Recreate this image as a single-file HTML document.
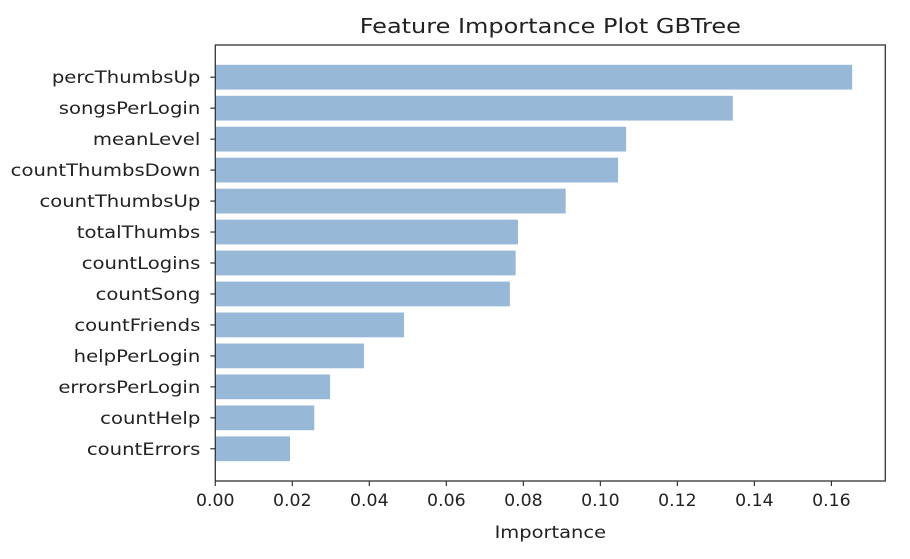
<!DOCTYPE html>
<html><head><meta charset="utf-8"><style>
body{margin:0;background:#fff;width:910px;height:554px;overflow:hidden}
svg{font-family:"DejaVu Sans","Liberation Sans",sans-serif}
</style></head><body>
<svg id="chart" width="910" height="554"></svg>
<script>
const categories=["percThumbsUp","songsPerLogin","meanLevel","countThumbsDown","countThumbsUp","totalThumbs","countLogins","countSong","countFriends","helpPerLogin","errorsPerLogin","countHelp","countErrors"];
const importance=[0.1654,0.1344,0.1067,0.1046,0.0910,0.0786,0.0780,0.0765,0.0490,0.0386,0.0298,0.0257,0.0194];
const xTicks=[0,0.02,0.04,0.06,0.08,0.10,0.12,0.14,0.16];
const xTickLabels=["0.00","0.02","0.04","0.06","0.08","0.10","0.12","0.14","0.16"];

const L=215.3,R=885.3,T=45,B=481;
const xMax=0.174;
const n=categories.length;
const x=v=>L+v/xMax*(R-L);
const yMin=-1.04,yMax=n-1+1.04;
const y=i=>T+(i-yMin)/(yMax-yMin)*(B-T);
const unit=(B-T)/(yMax-yMin);
const NS="http://www.w3.org/2000/svg";
const svg=document.getElementById('chart');
function mk(tag,attrs,text){const e=document.createElementNS(NS,tag);for(const k in attrs)e.setAttribute(k,attrs[k]);if(text!==undefined)e.textContent=text;svg.appendChild(e);return e;}
function txt(px,py,sx,anchor,size,s){return mk('text',{x:0,y:0,transform:`translate(${px},${py}) scale(${sx},1)`,'text-anchor':anchor,'font-size':size,fill:'#222'},s);}

categories.forEach((c,i)=>{
  const cy=y(i);
  const r=mk('rect',{x:L,y:cy-0.4*unit,width:x(importance[i])-L,height:0.8*unit,fill:'#97b8d7'});
  
  
  const tk=mk('line',{x1:L-5,x2:L,y1:cy,y2:cy,stroke:'#333','stroke-width':1.2});
  
  
  const t=txt(L-15,cy+6,1.19,'end',16.5,c);
  
  
});
xTicks.forEach((v,i)=>{
  const tk=mk('line',{x1:x(v),x2:x(v),y1:B,y2:B+5,stroke:'#333','stroke-width':1.2});
  
  
  const t=txt(x(v),B+25,1.05,'middle',16.5,xTickLabels[i]);
  
  
});
const frame=mk('rect',{x:L,y:T,width:R-L,height:B-T,fill:'none',stroke:'#333','stroke-width':1.3});


const xt=txt((L+R)/2,538,1.18,'middle',16.5,'Importance');


const tt=txt((L+R)/2,33,1.2,'middle',20,'Feature Importance Plot GBTree');


</script>
</body></html>
